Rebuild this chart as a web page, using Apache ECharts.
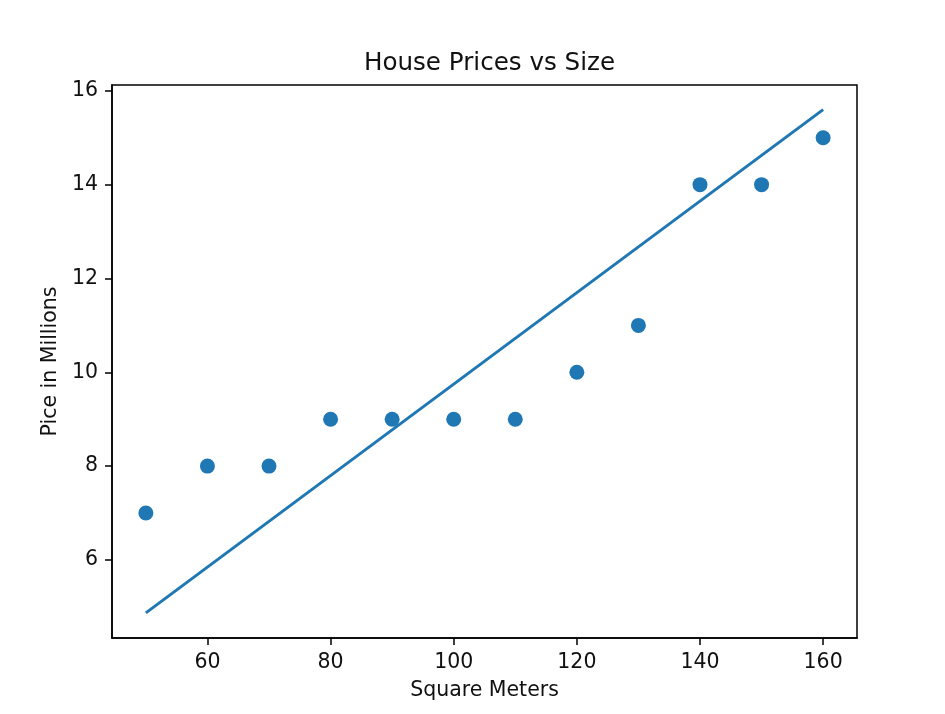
<!DOCTYPE html>
<html>
<head>
<meta charset="utf-8">
<script src="https://cdn.jsdelivr.net/npm/echarts@6/dist/echarts.min.js"></script>
<style>
html,body{margin:0;padding:0;background:#fff;}
#chart{width:945px;height:714px;}
</style>
</head>
<body>
<div id="chart"></div>
<script>
var sizes = [50, 60, 70, 80, 90, 100, 110, 120, 130, 140, 150, 160];
var prices = [7, 8, 8, 9, 9, 9, 9, 10, 11, 14, 14, 15];
var fitX = [50, 160];
var fitY = [4.87, 15.60];
var xTicks = [60, 80, 100, 120, 140, 160];
var yTicks = [6, 8, 10, 12, 14, 16];

var font = 'DejaVu Sans';
var chart = echarts.init(document.getElementById('chart'), null, {renderer: 'canvas'});
chart.setOption({
  animation: false,
  backgroundColor: '#ffffff',
  title: {
    text: 'House Prices vs Size',
    left: 484.5,
    textAlign: 'center',
    top: 46,
    textStyle: {fontFamily: font, fontSize: 24.6, fontWeight: 'normal', color: '#111'}
  },
  grid: {
    left: 112, right: 88, top: 85, bottom: 76,
    show: true, borderColor: '#000', borderWidth: 1.5, backgroundColor: 'transparent'
  },
  xAxis: {
    type: 'value',
    min: 44.5, max: 165.5,
    name: 'Square Meters',
    nameLocation: 'middle',
    nameGap: 42,
    nameTextStyle: {fontFamily: font, fontSize: 20.5, color: '#111'},
    splitLine: {show: false},
    axisLine: {show: true, onZero: false, lineStyle: {color: '#000', width: 1.5}},
    axisTick: {show: true, length: 7, customValues: xTicks, lineStyle: {color: '#000', width: 1.5}},
    axisLabel: {customValues: xTicks, margin: 14, fontFamily: font, fontSize: 20.5, color: '#111'}
  },
  yAxis: {
    type: 'value',
    min: 4.335, max: 16.125,
    name: 'Pice in Millions',
    nameLocation: 'middle',
    nameGap: 47,
    nameTextStyle: {fontFamily: font, fontSize: 20.5, color: '#111'},
    splitLine: {show: false},
    axisLine: {show: true, onZero: false, lineStyle: {color: '#000', width: 1.5}},
    axisTick: {show: true, length: 7, customValues: yTicks, lineStyle: {color: '#000', width: 1.5}},
    axisLabel: {customValues: yTicks, margin: 14, fontFamily: font, fontSize: 20.5, color: '#111'}
  },
  series: [
    {
      type: 'line',
      data: fitX.map(function (x, i) { return [x, fitY[i]]; }),
      showSymbol: false,
      lineStyle: {color: '#1f77b4', width: 3},
      z: 2
    },
    {
      type: 'scatter',
      data: sizes.map(function (x, i) { return [x, prices[i]]; }),
      symbolSize: 15,
      itemStyle: {color: '#1f77b4', opacity: 1},
      z: 3
    }
  ]
});
</script>
</body>
</html>
